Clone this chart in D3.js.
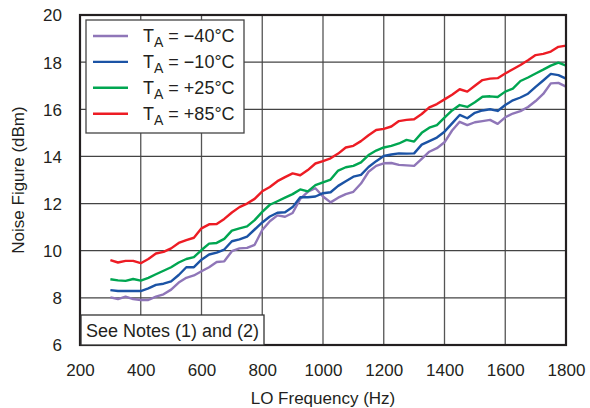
<!DOCTYPE html>
<html><head><meta charset="utf-8">
<script src="https://cdn.jsdelivr.net/npm/d3@7"></script>
<style>body{margin:0;background:#fff}text{font-family:"Liberation Sans",Arial,sans-serif;fill:#231f20}</style>
</head><body><svg id="c" width="590" height="408"></svg>
<script>
const freq = d3.range(300, 1801, 25);
const tM40 = [8.02,7.95,8.05,7.95,7.91,7.91,8.05,8.15,8.35,8.65,8.85,8.95,9.13,9.3,9.52,9.55,9.98,10.1,10.12,10.25,10.88,11.25,11.5,11.44,11.6,12.2,12.5,12.65,12.3,12.05,12.25,12.4,12.5,12.85,13.35,13.6,13.71,13.72,13.64,13.62,13.6,13.9,14.2,14.35,14.6,15.1,15.47,15.33,15.45,15.5,15.55,15.38,15.66,15.82,15.92,16.1,16.35,16.65,17.1,17.12,16.96];
const tM10 = [8.33,8.29,8.29,8.29,8.29,8.4,8.55,8.6,8.7,8.97,9.3,9.3,9.62,9.84,9.92,10.05,10.4,10.48,10.6,10.9,11.2,11.45,11.61,11.63,11.85,12.27,12.27,12.3,12.44,12.48,12.75,12.95,13.14,13.22,13.55,13.8,14.02,14.08,14.13,14.12,14.13,14.5,14.65,14.8,15.05,15.4,15.76,15.62,15.85,15.95,16.0,15.93,16.18,16.38,16.5,16.66,16.95,17.22,17.5,17.45,17.3];
const tP25 = [8.79,8.74,8.72,8.8,8.73,8.85,9.0,9.15,9.3,9.5,9.65,9.73,10.03,10.3,10.33,10.5,10.85,10.95,11.03,11.3,11.65,11.95,12.1,12.25,12.4,12.6,12.52,12.78,12.9,13.02,13.4,13.54,13.6,13.75,14.06,14.25,14.38,14.45,14.55,14.7,14.63,15.0,15.22,15.33,15.65,15.95,16.18,16.1,16.3,16.53,16.55,16.52,16.75,16.88,17.2,17.35,17.52,17.68,17.85,17.98,17.85];
const tP85 = [9.6,9.5,9.57,9.57,9.47,9.65,9.88,9.95,10.1,10.33,10.45,10.55,10.95,11.12,11.13,11.35,11.62,11.85,12.0,12.2,12.52,12.7,12.95,13.12,13.28,13.2,13.42,13.7,13.8,13.92,14.12,14.38,14.45,14.65,14.9,15.12,15.17,15.27,15.5,15.55,15.58,15.8,16.08,16.22,16.42,16.62,16.85,16.75,17.0,17.24,17.3,17.32,17.52,17.7,17.88,18.08,18.3,18.35,18.45,18.65,18.7];
const seriesNames = ["−40°C","−10°C","+25°C","+85°C"];
const seriesColors = ["#8f76b8","#1b53a5","#00a651","#ed1c24"];
const seriesValues = [tM40, tM10, tP25, tP85];
const xTicks = [200,400,600,800,1000,1200,1400,1600,1800];
const yTicks = [6,8,10,12,14,16,18,20];

const svg = d3.select("#c");
const L=80,R=566,T=15,B=345;
const x = d3.scaleLinear().domain([200,1800]).range([L,R]);
const y = d3.scaleLinear().domain([6,20]).range([B,T]);

// grid
svg.append("g").selectAll("line").data(xTicks.slice(1,-1)).join("line")
  .attr("x1",d=>x(d)).attr("x2",d=>x(d)).attr("y1",T).attr("y2",B)
  .attr("stroke","#555").attr("stroke-width",1.3);
svg.append("g").selectAll("line").data(yTicks.slice(1,-1)).join("line")
  .attr("y1",d=>y(d)).attr("y2",d=>y(d)).attr("x1",L).attr("x2",R)
  .attr("stroke","#444").attr("stroke-width",1.3);

// tick labels
const xa = svg.append("g").attr("transform",`translate(0,${B+25})`)
  .call(d3.axisBottom(x).tickValues(xTicks).tickSize(0).tickPadding(0).tickFormat(d3.format("d")));
xa.select(".domain").remove();
xa.selectAll("text").attr("font-size",17).attr("font-family",null).attr("fill","#231f20").attr("dy","0.35em");
const ya = svg.append("g").attr("transform",`translate(${L-18},0)`)
  .call(d3.axisLeft(y).tickValues(yTicks).tickSize(0).tickPadding(0));
ya.select(".domain").remove();
ya.selectAll("text").attr("font-size",17).attr("font-family",null).attr("fill","#231f20").attr("dy","0.35em");

svg.append("text").attr("x",(L+R)/2).attr("y",404).attr("text-anchor","middle").attr("font-size",17).text("LO Frequency (Hz)");
svg.append("text").attr("transform",`translate(24,${(T+B)/2}) rotate(-90)`).attr("text-anchor","middle").attr("font-size",17).text("Noise Figure (dBm)");

// lines
const line = d3.line().x((d,i)=>x(freq[i])).y(d=>y(d));
svg.append("g").selectAll("path").data(seriesValues).join("path")
  .attr("d",line).attr("fill","none").attr("stroke",(d,i)=>seriesColors[i])
  .attr("stroke-width",2.4).attr("stroke-linejoin","round");

// frame
svg.append("rect").attr("x",L).attr("y",T).attr("width",R-L).attr("height",B-T)
  .attr("fill","none").attr("stroke","#231f20").attr("stroke-width",2.2);

// legend
const lg = svg.append("g");
lg.append("rect").attr("x",86).attr("y",20).attr("width",158).attr("height",113)
  .attr("fill","#fff").attr("stroke","#444").attr("stroke-width",1.3);
seriesNames.forEach((n,i)=>{
  const yy = 36 + i*25.9;
  lg.append("line").attr("x1",93).attr("x2",128).attr("y1",yy).attr("y2",yy)
    .attr("stroke",seriesColors[i]).attr("stroke-width",2.4);
  const t = lg.append("text").attr("x",143).attr("y",yy+6).attr("font-size",18);
  t.append("tspan").text("T");
  t.append("tspan").attr("dy",5).attr("font-size",14).text("A");
  t.append("tspan").attr("dy",-5).text(" = "+n);
});

// notes box
svg.append("rect").attr("x",81).attr("y",315).attr("width",183).attr("height",30)
  .attr("fill","#fff").attr("stroke","#333").attr("stroke-width",1.3);
svg.append("text").attr("x",86).attr("y",337).attr("font-size",18).text("See Notes (1) and (2)");
</script></body></html>
